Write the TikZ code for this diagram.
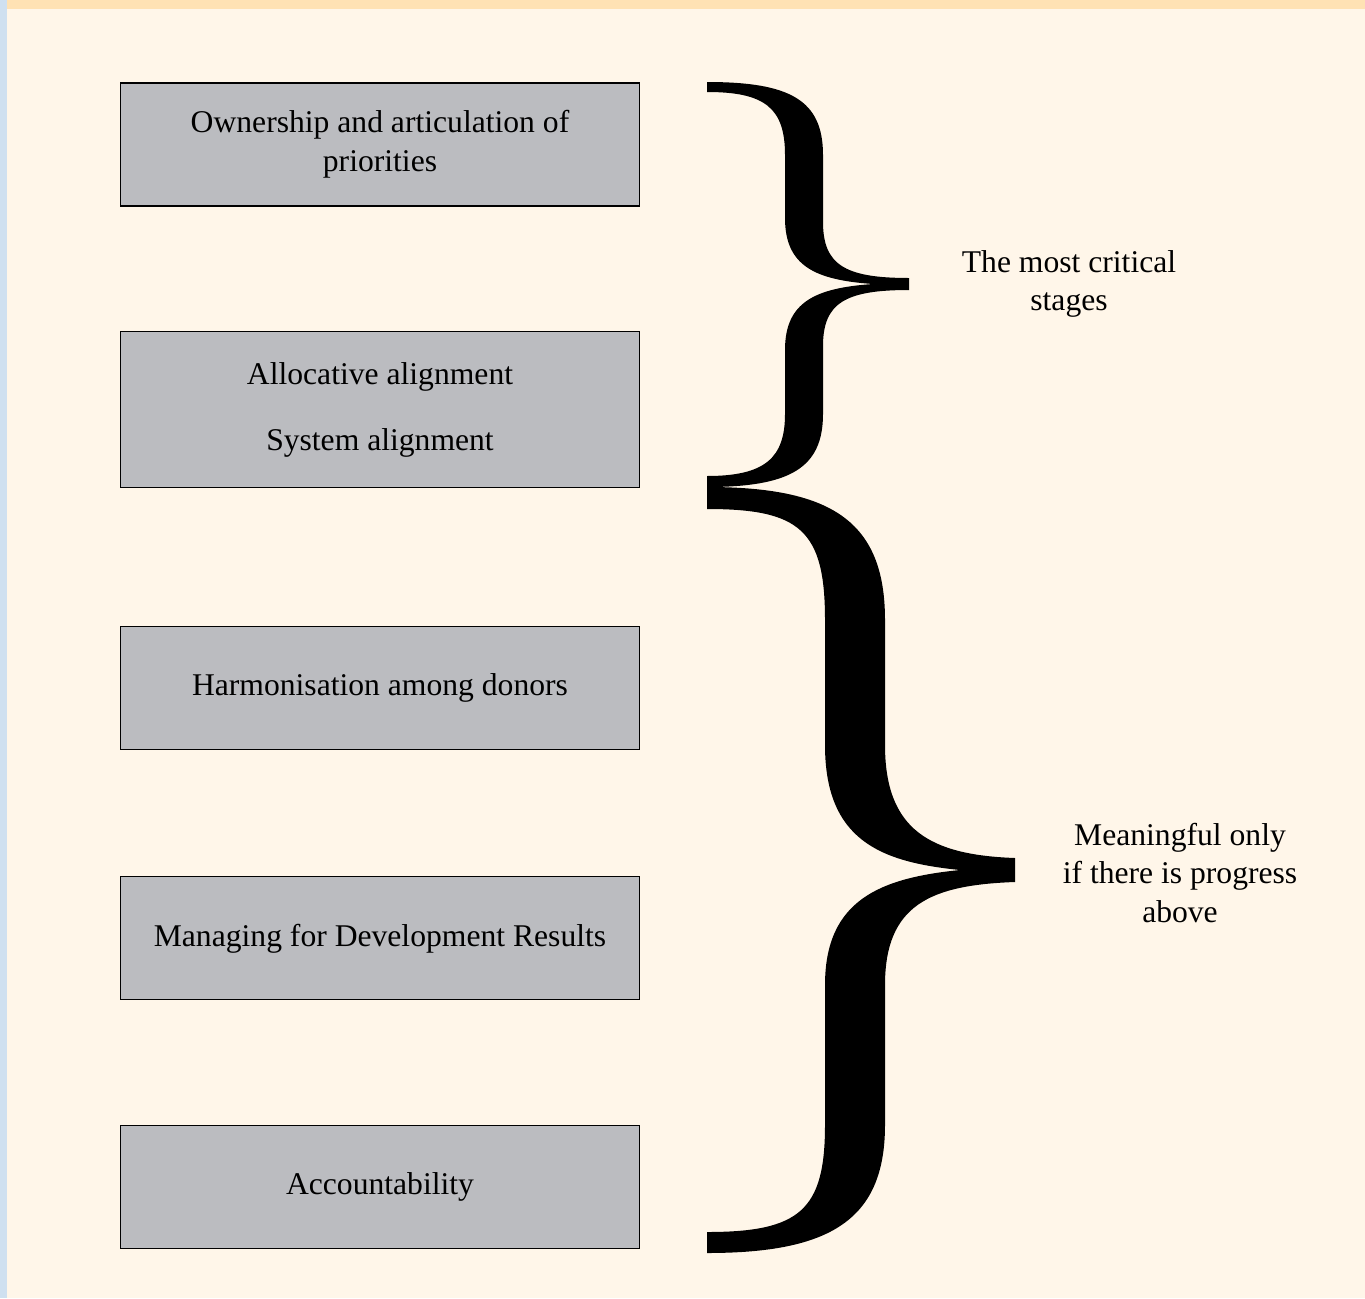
\documentclass[tikz,border=0pt]{standalone}
\usepackage{fontspec}
\setmainfont{Liberation Serif}
\usepackage{tikz}
\usetikzlibrary{positioning}
\definecolor{bgcol}{RGB}{255,246,233}
\definecolor{topcol}{RGB}{255,226,180}
\definecolor{sidecol}{RGB}{207,224,240}
\definecolor{boxcol}{RGB}{187,188,192}
\tikzstyle{stage}=[draw, fill=boxcol, line width=0.6pt, minimum width=10.4cm, minimum height=2.46cm, align=center, inner sep=0pt]
\tikzstyle{note}=[align=center, inner sep=0pt]
\tikzstyle{bracefill}=[fill=black, draw=none]
\begin{document}
\begin{tikzpicture}[x=0.02cm,y=-0.02cm,font=\fontsize{18}{22}\selectfont]
    % page and strips
    \fill[bgcol] (0,0) rectangle (1365,1298);
    \fill[topcol] (0,0) rectangle (1365,9);
    \fill[sidecol] (0,0) rectangle (7,1298);
    \useasboundingbox (0,0) rectangle (1365,1298);
    % stages
    \node [stage] (own) at (380,144.5) {Ownership and articulation of\\priorities};
    \node [stage, minimum height=3.12cm] (align) [below of=own, node distance=5.31cm] {Allocative alignment\\[16pt]System alignment};
    \node [stage] (harm) [below of=align, node distance=5.57cm] {Harmonisation among donors};
    \node [stage] (mfdr) [below of=harm, node distance=5cm] {Managing for Development Results};
    \node [stage] (acc) [below of=mfdr, node distance=4.98cm] {Accountability};
    % braces
    \path[bracefill] (707,82) .. controls (790,82) and (823,100) .. (823,155)
        -- (823,222) .. controls (823,265) and (845,278) .. (909,278)
        -- (909,290) .. controls (845,290) and (823,303) .. (823,346)
        -- (823,414) .. controls (823,468) and (790,487) .. (707,487)
        -- (707,476) .. controls (765,476) and (785,458) .. (785,414)
        -- (785,350) .. controls (785,302) and (815,288) .. (873,284)
        .. controls (815,280) and (785,266) .. (785,218)
        -- (785,155) .. controls (785,108) and (765,92) .. (707,92) -- cycle;
    \path[bracefill] (707,487) .. controls (830,487) and (885,520) .. (885,620)
        -- (885,745) .. controls (885,830) and (930,855) .. (1015,858)
        -- (1015,882) .. controls (930,885) and (885,905) .. (885,985)
        -- (885,1125) .. controls (885,1220) and (830,1253) .. (707,1253)
        -- (707,1232) .. controls (800,1232) and (825,1210) .. (825,1125)
        -- (825,985) .. controls (825,900) and (880,878) .. (960,870)
        .. controls (880,862) and (825,840) .. (825,745)
        -- (825,620) .. controls (825,530) and (800,509) .. (707,509) -- cycle;
    % labels
    \node [note] (crit) at (1069,284) {The most critical\\stages};
    \node [note] (mean) at (1180,873) {Meaningful only\\if there is progress\\above};
\end{tikzpicture}
\end{document}
